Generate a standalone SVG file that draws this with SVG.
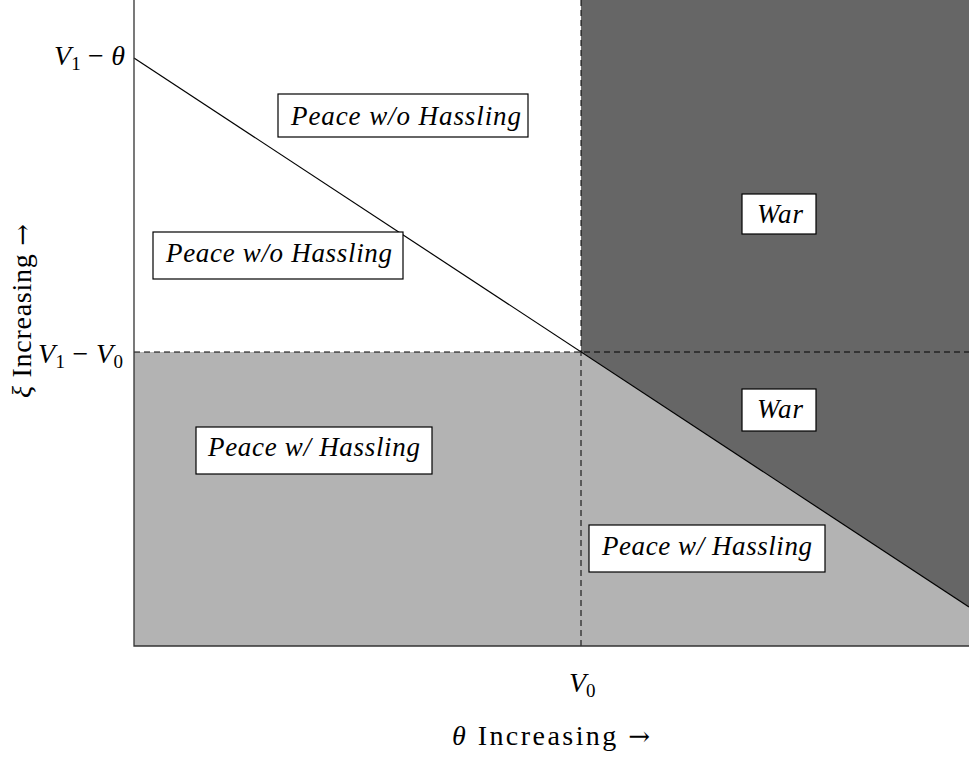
<svg xmlns="http://www.w3.org/2000/svg" width="969" height="757" viewBox="0 0 969 757">
<style>
.lbl{font-family:"Liberation Serif","DejaVu Serif",serif;font-style:italic;font-size:27px;fill:#000}
.box{fill:#fff;stroke:#000;stroke-width:1.2}
.ax{font-family:"Liberation Serif","DejaVu Serif",serif;font-size:28px;fill:#000}
.arr{font-family:"DejaVu Serif",serif;font-size:26px}
.dash{stroke:#000;stroke-width:1;stroke-dasharray:6 4;fill:none}
</style>
<rect width="969" height="757" fill="#fff"/>
<g id="regions">
<polygon points="134,352 581,352 581,352 969,607 969,646 134,646" fill="#b3b3b3"/>
<polygon points="581,0 969,0 969,607 581,352" fill="#666"/>
</g>
<g id="connectors">
<line x1="134" y1="58" x2="969" y2="607" stroke="#000" stroke-width="1.2"/>
<line class="dash" x1="134" y1="352" x2="969" y2="352"/>
<line class="dash" x1="581" y1="0" x2="581" y2="646"/>
<polyline points="134,0 134,646 969,646" fill="none" stroke="#333" stroke-width="1.3"/>
</g>
<g id="n1"><rect class="box" x="278" y="94" width="250" height="43"/><text class="lbl" x="291" y="125" textLength="230" lengthAdjust="spacing">Peace w/o Hassling</text></g>
<g id="n2"><rect class="box" x="153" y="232" width="250" height="47"/><text class="lbl" x="166" y="262" textLength="226" lengthAdjust="spacing">Peace w/o Hassling</text></g>
<g id="n3"><rect class="box" x="742" y="194" width="74" height="40"/><text class="lbl" x="757" y="223" textLength="46" lengthAdjust="spacing">War</text></g>
<g id="n4"><rect class="box" x="742" y="389" width="74" height="42"/><text class="lbl" x="757" y="418" textLength="46" lengthAdjust="spacing">War</text></g>
<g id="n5"><rect class="box" x="196" y="427" width="236" height="47"/><text class="lbl" x="208" y="456" textLength="212" lengthAdjust="spacing">Peace w/ Hassling</text></g>
<g id="n6"><rect class="box" x="589" y="525" width="236" height="47"/><text class="lbl" x="602" y="555" textLength="210" lengthAdjust="spacing">Peace w/ Hassling</text></g>
<g id="axis-labels">
<text class="ax" x="54" y="65" textLength="71" lengthAdjust="spacing"><tspan font-style="italic">V</tspan><tspan font-size="19" dy="5">1</tspan><tspan dy="-5"> − </tspan><tspan font-style="italic">θ</tspan></text>
<text class="ax" x="38" y="363" textLength="85" lengthAdjust="spacing"><tspan font-style="italic">V</tspan><tspan font-size="19" dy="5">1</tspan><tspan dy="-5"> − </tspan><tspan font-style="italic">V</tspan><tspan font-size="19" dy="5">0</tspan></text>
<text class="ax" x="569" y="692"><tspan font-style="italic">V</tspan><tspan font-size="19" dy="5">0</tspan></text>
<text class="ax" x="452" y="745" font-size="31" textLength="198" lengthAdjust="spacing"><tspan font-style="italic">θ</tspan> Increasing <tspan class="arr">→</tspan></text>
<text class="ax" transform="translate(31,398) rotate(-90)" font-size="31" textLength="174" lengthAdjust="spacing"><tspan font-style="italic">ξ</tspan> Increasing <tspan class="arr">→</tspan></text>
</g>
</svg>
